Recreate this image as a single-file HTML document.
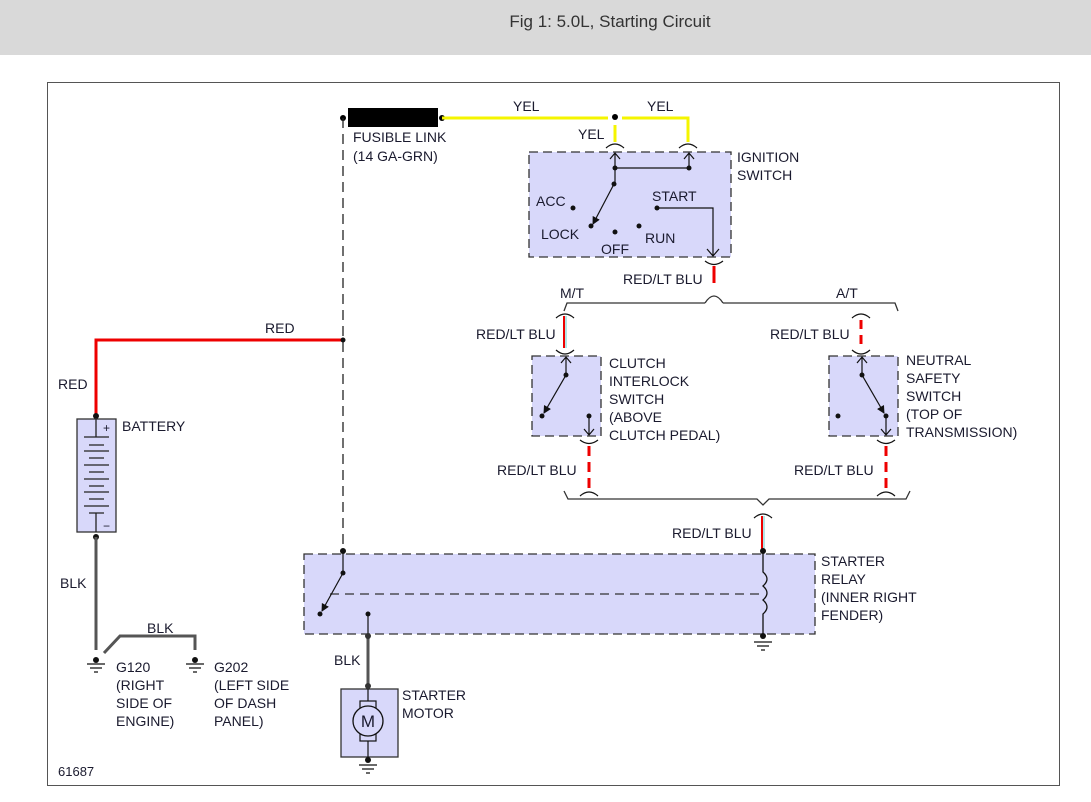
<!DOCTYPE html>
<html><head><meta charset="utf-8"><style>
html,body{margin:0;padding:0;background:#fff;}
svg{display:block;font-family:"Liberation Sans",Arial,sans-serif;}
text{font-size:14px;fill:#1a1a2e;}
</style></head><body>
<svg width="1091" height="802" viewBox="0 0 1091 802" xmlns="http://www.w3.org/2000/svg">
<defs>
<marker id="ah" markerWidth="8" markerHeight="8" refX="7" refY="4" orient="auto" markerUnits="userSpaceOnUse"><path d="M0,0 L8,4 L0,8 z" fill="#111"/></marker>
<marker id="va" markerWidth="12" markerHeight="10" refX="6" refY="9" orient="auto-start-reverse" markerUnits="userSpaceOnUse"><path d="M0,1 L6,9 L12,1" fill="none" stroke="#111" stroke-width="1.2"/></marker>
</defs>
<rect x="0" y="0" width="1091" height="55" fill="#d9d9d9"/>
<text x="610" y="27" text-anchor="middle" style="font-size:17px;fill:#333">Fig 1: 5.0L, Starting Circuit</text>
<rect x="47.5" y="82.5" width="1012" height="703" fill="none" stroke="#555" stroke-width="1"/>

<!-- fusible link -->
<rect x="348" y="108" width="90" height="19" fill="#000"/>
<circle cx="343" cy="118" r="3" fill="#000"/><circle cx="442" cy="118" r="3" fill="#000"/>
<polyline points="442,118 608,118" stroke="#f5f500" stroke-width="3" fill="none"/>
<polyline points="622,118 688,118 688,142" stroke="#f5f500" stroke-width="3" fill="none"/>
<line x1="615" y1="125" x2="615" y2="142" stroke="#f5f500" stroke-width="3"/>
<circle cx="615" cy="117" r="3" fill="#000"/>
<text x="513" y="111">YEL</text><text x="647" y="111">YEL</text><text x="578" y="139">YEL</text>
<text x="353" y="142">FUSIBLE LINK</text><text x="353" y="161">(14 GA-GRN)</text>
<line x1="343" y1="118" x2="343" y2="551" stroke="#222" stroke-width="1.3" stroke-dasharray="10,6"/>

<!-- ignition switch -->
<rect x="529" y="152" width="202" height="105" fill="#d8d8fa" stroke="#333" stroke-width="1.3" stroke-dasharray="9,5"/>
<path d="M606,148 Q615,140 624,148 M679,148 Q688,140 697,148" fill="none" stroke="#111" stroke-width="1.2"/>
<path d="M615,168 L615,153 M610,159 L615,153 L620,159 M689,168 L689,153 M684,159 L689,153 L694,159" fill="none" stroke="#111" stroke-width="1.2"/>
<polyline points="615,184 615,168 689,168" fill="none" stroke="#111" stroke-width="1.2"/>
<circle cx="615" cy="168" r="2.5" fill="#111"/><circle cx="689" cy="168" r="2.5" fill="#111"/><circle cx="614" cy="184" r="2.5" fill="#111"/>
<line x1="614" y1="184" x2="593" y2="224" stroke="#111" stroke-width="1.2" marker-end="url(#ah)"/>
<circle cx="591" cy="226" r="2.5" fill="#111"/><circle cx="573" cy="208" r="2.5" fill="#111"/><circle cx="615" cy="232" r="2.5" fill="#111"/><circle cx="639" cy="226" r="2.5" fill="#111"/><circle cx="657" cy="208" r="2.5" fill="#111"/>
<polyline points="657,208 713,208 713,256" fill="none" stroke="#111" stroke-width="1.2"/>
<path d="M707,249 L713,256 L719,249" fill="none" stroke="#111" stroke-width="1.2"/>
<text x="536" y="206">ACC</text><text x="541" y="239">LOCK</text><text x="601" y="254">OFF</text><text x="645" y="243">RUN</text><text x="652" y="201">START</text>
<text x="737" y="162">IGNITION</text><text x="737" y="180">SWITCH</text>
<path d="M705,261 Q714,268 723,261" fill="none" stroke="#111" stroke-width="1.2"/>
<line x1="714" y1="266" x2="714" y2="283" stroke="#e00" stroke-width="3"/>
<text x="623" y="284">RED/LT BLU</text>
<text x="560" y="298">M/T</text><text x="836" y="298">A/T</text>
<path d="M564,311 L567,303 L705,303 M723,303 L895,303 L898,311" fill="none" stroke="#333" stroke-width="1.3"/>
<path d="M705,303 Q714,289 723,303" fill="none" stroke="#333" stroke-width="1.3"/>

<!-- clutch -->
<path d="M556,318 Q565,310 574,318 M556,350 Q565,358 574,350" fill="none" stroke="#111" stroke-width="1.2"/>
<line x1="564" y1="316" x2="564" y2="348" stroke="#e00" stroke-width="2"/><line x1="566" y1="316" x2="566" y2="348" stroke="#6cc" stroke-width="1"/>
<text x="476" y="339">RED/LT BLU</text>
<rect x="532" y="356" width="69" height="80" fill="#d8d8fa" stroke="#333" stroke-width="1.3" stroke-dasharray="9,5"/>
<path d="M566,375 L566,357 M561,363 L566,357 L571,363" fill="none" stroke="#111" stroke-width="1.2"/>
<circle cx="566" cy="375" r="2.5" fill="#111"/>
<line x1="566" y1="375" x2="544" y2="413" stroke="#111" stroke-width="1.2" marker-end="url(#ah)"/>
<circle cx="542" cy="416" r="2.5" fill="#111"/><circle cx="589" cy="416" r="2.5" fill="#111"/>
<path d="M589,416 L589,435 M584,429 L589,435 L594,429" fill="none" stroke="#111" stroke-width="1.2"/>
<path d="M580,440 Q589,447 598,440 M580,496 Q589,488 598,496" fill="none" stroke="#111" stroke-width="1.2"/>
<line x1="589" y1="446" x2="589" y2="488" stroke="#e00" stroke-width="3" stroke-dasharray="10,6"/>
<text x="497" y="475">RED/LT BLU</text>
<text x="609" y="368">CLUTCH</text><text x="609" y="386">INTERLOCK</text><text x="609" y="404">SWITCH</text><text x="609" y="422">(ABOVE</text><text x="609" y="440">CLUTCH PEDAL)</text>

<!-- neutral -->
<path d="M852,318 Q861,310 870,318 M852,350 Q861,358 870,350" fill="none" stroke="#111" stroke-width="1.2"/>
<line x1="861" y1="320" x2="861" y2="348" stroke="#e00" stroke-width="3" stroke-dasharray="9,6"/>
<text x="770" y="339">RED/LT BLU</text>
<rect x="829" y="356" width="69" height="80" fill="#d8d8fa" stroke="#333" stroke-width="1.3" stroke-dasharray="9,5"/>
<path d="M862,375 L862,357 M857,363 L862,357 L867,363" fill="none" stroke="#111" stroke-width="1.2"/>
<circle cx="862" cy="375" r="2.5" fill="#111"/>
<line x1="862" y1="375" x2="884" y2="413" stroke="#111" stroke-width="1.2" marker-end="url(#ah)"/>
<circle cx="886" cy="416" r="2.5" fill="#111"/><circle cx="838" cy="416" r="2.5" fill="#111"/>
<path d="M886,416 L886,435 M881,429 L886,435 L891,429" fill="none" stroke="#111" stroke-width="1.2"/>
<path d="M877,440 Q886,447 895,440 M877,496 Q886,488 895,496" fill="none" stroke="#111" stroke-width="1.2"/>
<line x1="886" y1="446" x2="886" y2="488" stroke="#e00" stroke-width="3" stroke-dasharray="10,6"/>
<text x="794" y="475">RED/LT BLU</text>
<text x="906" y="365">NEUTRAL</text><text x="906" y="383">SAFETY</text><text x="906" y="401">SWITCH</text><text x="906" y="419">(TOP OF</text><text x="906" y="437">TRANSMISSION)</text>

<!-- bottom bracket -->
<path d="M564,491 L568,499 L757,499 L763,505 L769,499 L906,499 L910,491" fill="none" stroke="#333" stroke-width="1.3"/>
<path d="M754,518 Q763,510 772,518" fill="none" stroke="#111" stroke-width="1.2"/>
<line x1="762" y1="516" x2="762" y2="551" stroke="#e00" stroke-width="2"/><line x1="764" y1="516" x2="764" y2="551" stroke="#6cc" stroke-width="1"/>
<text x="672" y="538">RED/LT BLU</text>

<!-- relay -->
<rect x="304" y="554" width="511" height="80" fill="#d8d8fa" stroke="#333" stroke-width="1.3" stroke-dasharray="9,5"/>
<line x1="330" y1="594" x2="760" y2="594" stroke="#333" stroke-width="1.2" stroke-dasharray="9,6"/>
<circle cx="343" cy="551" r="3" fill="#111"/><line x1="343" y1="551" x2="343" y2="573" stroke="#111" stroke-width="1.2"/><circle cx="343" cy="573" r="2.5" fill="#111"/>
<line x1="343" y1="573" x2="322" y2="611" stroke="#111" stroke-width="1.2" marker-end="url(#ah)"/>
<circle cx="320" cy="614" r="2.5" fill="#111"/><circle cx="368" cy="614" r="2.5" fill="#111"/>
<line x1="368" y1="614" x2="368" y2="636" stroke="#111" stroke-width="1.2"/>
<circle cx="763" cy="551" r="3" fill="#111"/>
<path d="M763,551 L763,572 Q771,579 763,586 Q771,593 763,600 Q771,607 763,614 L763,636" fill="none" stroke="#111" stroke-width="1.3"/>
<circle cx="763" cy="636" r="3" fill="#111"/>
<path d="M754,642 L772,642 M757,646 L769,646 M761,650 L765,650" stroke="#111" stroke-width="1.2"/>
<text x="821" y="566">STARTER</text><text x="821" y="584">RELAY</text><text x="821" y="602">(INNER RIGHT</text><text x="821" y="620">FENDER)</text>

<!-- starter motor -->
<line x1="368" y1="636" x2="368" y2="686" stroke="#555" stroke-width="3"/>
<circle cx="368" cy="636" r="3" fill="#333"/><circle cx="368" cy="686" r="3" fill="#333"/>
<text x="334" y="665">BLK</text>
<rect x="341" y="689" width="57" height="68" fill="#d8d8fa" stroke="#333" stroke-width="1.3"/>
<line x1="368" y1="689" x2="368" y2="757" stroke="#111" stroke-width="1.2"/>
<rect x="360" y="701" width="16" height="40" fill="#d8d8fa" stroke="#111" stroke-width="1.2"/>
<circle cx="368" cy="721" r="15" fill="#d8d8fa" stroke="#111" stroke-width="1.3"/>
<text x="368" y="727" text-anchor="middle" style="font-size:17px">M</text>
<circle cx="368" cy="760" r="3" fill="#111"/>
<path d="M359,765 L377,765 M362,769 L374,769 M366,773 L370,773" stroke="#111" stroke-width="1.2"/>
<text x="402" y="700">STARTER</text><text x="402" y="718">MOTOR</text>

<!-- battery -->
<polyline points="96,416 96,340 343,340" fill="none" stroke="#e00" stroke-width="3"/>
<circle cx="343" cy="340" r="2.5" fill="#111"/>
<text x="265" y="333">RED</text><text x="58" y="389">RED</text>
<circle cx="96" cy="416" r="3" fill="#111"/>
<rect x="77" y="419" width="39" height="113" fill="#d8d8fa" stroke="#333" stroke-width="1.3"/>
<path d="M96,419 L96,437 M84,437 L109,437 M89,445 L104,445 M84,451 L109,451 M89,458 L104,458 M84,465 L109,465 M89,472 L104,472 M84,479 L109,479 M89,486 L104,486 M84,492 L109,492 M89,499 L104,499 M84,506 L109,506 M89,513 L104,513 M96,513 L96,532" stroke="#222" stroke-width="1.3"/>
<text x="103" y="432" style="font-size:12px">+</text><text x="103" y="530" style="font-size:12px">−</text>
<text x="122" y="431">BATTERY</text>
<circle cx="96" cy="537" r="3" fill="#111"/>
<line x1="96" y1="537" x2="96" y2="650" stroke="#555" stroke-width="3"/>
<text x="60" y="588">BLK</text>
<polyline points="104,653 120,636 195,636 195,650" fill="none" stroke="#555" stroke-width="3"/>
<text x="147" y="633">BLK</text>
<circle cx="96" cy="660" r="3" fill="#111"/>
<path d="M87,664 L105,664 M90,668 L102,668 M94,672 L98,672" stroke="#111" stroke-width="1.2"/>
<circle cx="195" cy="660" r="3" fill="#111"/>
<path d="M186,664 L204,664 M189,668 L201,668 M193,672 L197,672" stroke="#111" stroke-width="1.2"/>
<text x="116" y="672">G120</text><text x="116" y="690">(RIGHT</text><text x="116" y="708">SIDE OF</text><text x="116" y="726">ENGINE)</text>
<text x="214" y="672">G202</text><text x="214" y="690">(LEFT SIDE</text><text x="214" y="708">OF DASH</text><text x="214" y="726">PANEL)</text>
<text x="58" y="776" style="font-size:13px">61687</text>
</svg>
</body></html>
